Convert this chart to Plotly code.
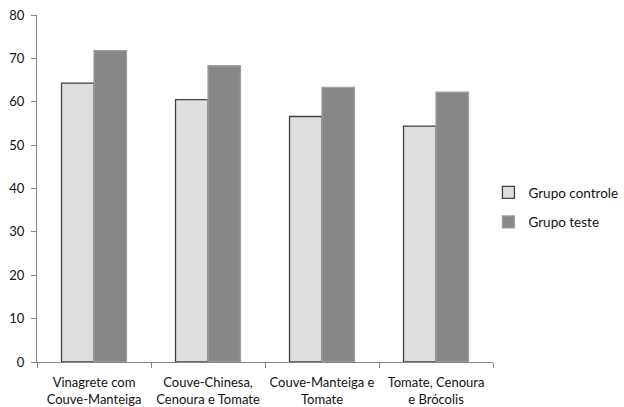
import plotly.graph_objects as go

categories = ["Vinagrete com<br>Couve-Manteiga", "Couve-Chinesa,<br>Cenoura e Tomate",
              "Couve-Manteiga e<br>Tomate", "Tomate, Cenoura<br>e Brócolis"]
controle = [64.3, 60.5, 56.6, 54.4]
teste = [71.8, 68.3, 63.3, 62.2]
y_ticks = [0, 10, 20, 30, 40, 50, 60, 70, 80]

fig = go.Figure()
fig.add_trace(go.Bar(x=categories, y=controle, name="Grupo controle", legendgroup="a",
                     marker=dict(color="#dedede", line=dict(color="#404040", width=1.3))))
fig.add_trace(go.Bar(x=categories, y=teste, name="Grupo teste", legendgroup="b",
                     marker=dict(color="#878787", line=dict(color="#a0a0a0", width=1.3))))

font_family = "Lato, Open Sans, sans-serif"
fig.update_layout(
    width=624, height=407,
    margin=dict(l=37, r=131, t=15, b=45, autoexpand=False),
    paper_bgcolor="white", plot_bgcolor="white",
    barmode="group", bargap=0.43, bargroupgap=0,
    font=dict(family=font_family, size=13, color="#111111"),
    showlegend=True,
    legend=dict(x=0.99, y=0.445, xanchor="left", yanchor="middle",
                font=dict(size=13.5, color="#111111"), tracegroupgap=9,
                itemwidth=30, bgcolor="rgba(0,0,0,0)"),
    xaxis=dict(showline=True, linecolor="#868686", linewidth=1,
               ticks="outside", ticklen=5, tickcolor="#868686",
               tickson="boundaries", showgrid=False, zeroline=False,
               tickangle=0, ticklabelstandoff=8, tickfont=dict(size=13)),
    yaxis=dict(range=[0, 80], tickvals=y_ticks, showline=True,
               linecolor="#868686", linewidth=1, ticks="outside", ticklen=5,
               tickcolor="#868686", showgrid=False, zeroline=False,
               ticklabelstandoff=4, tickfont=dict(size=13)),
)

fig.write_html("out.html")
